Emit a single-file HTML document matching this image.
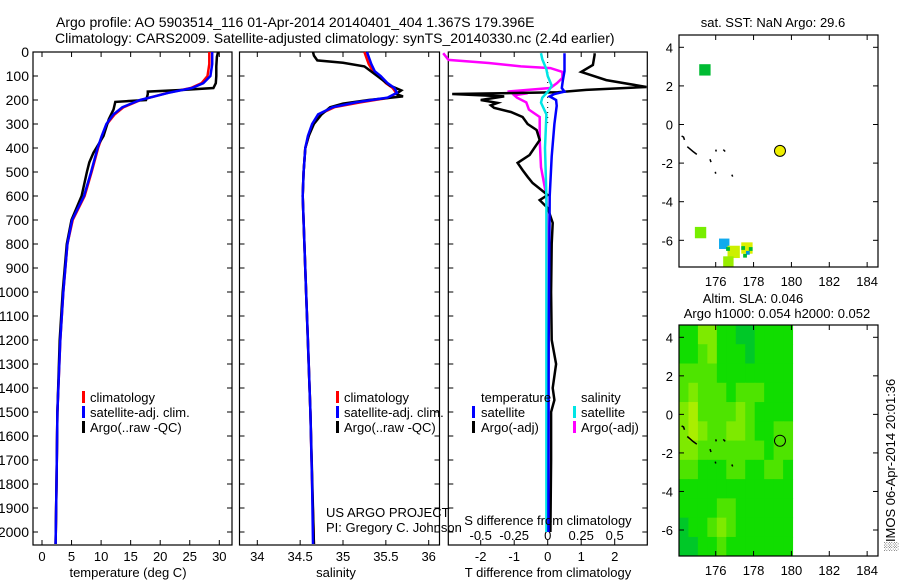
<!DOCTYPE html>
<html><head><meta charset="utf-8">
<style>
html,body{margin:0;padding:0;background:#fff;}
svg{display:block;font-family:"Liberation Sans",sans-serif;}
text{font-size:13px;fill:#000;}
.tt{font-size:14px;}
.sm{font-size:13px;}
</style></head>
<body>
<svg id="chart" width="900" height="580" viewBox="0 0 900 580">
<text class="tt" x="56" y="27">Argo profile: AO 5903514_116 01-Apr-2014 20140401_404 1.367S 179.396E</text>
<text class="tt" x="55" y="43">Climatology: CARS2009. Satellite-adjusted climatology: synTS_20140330.nc (2.4d earlier)</text>
<g id="layer"></g>
</svg>
<script>
// ---- data ----
const tDepth = [0,50,100,130,150,170,185,200,230,260,300,350,400,500,600,700,800,1000,1200,1500,1800,2050];
const tClim  = [28.3,28.3,28.0,27.0,25.2,21.3,19.0,16.7,13.8,12.3,11.0,10.2,9.5,8.4,7.2,5.2,4.3,3.6,3.1,2.6,2.45,2.3];
const tSat   = [28.8,28.8,28.5,27.3,25.4,21.4,19.0,16.6,13.6,12.1,10.9,10.1,9.4,8.3,7.1,5.1,4.3,3.6,3.1,2.6,2.45,2.3];
const aDepth = [0,20,60,100,130,150,158,165,175,185,200,208,240,280,350,420,460,500,600,700,800,1000,1200,1500,1800,2050];
const tArgo  = [29.8,29.6,29.5,29.5,29.4,29.0,24.0,17.9,17.9,17.8,17.6,12.4,12.1,11.3,10.4,8.7,8.0,7.6,6.7,5.0,4.2,3.5,3.0,2.6,2.45,2.3];
const sDepth = [0,20,50,80,100,130,150,170,190,210,230,260,300,350,400,500,600,800,1000,1200,1500,1800,2050];
const sClim  = [35.25,35.27,35.3,35.35,35.42,35.5,35.58,35.62,35.55,35.2,34.9,34.72,34.65,34.6,34.56,34.54,34.53,34.55,34.57,34.59,34.62,34.64,34.66];
const sSat   = [35.28,35.3,35.33,35.37,35.44,35.52,35.6,35.63,35.52,35.15,34.88,34.71,34.64,34.59,34.56,34.54,34.53,34.55,34.57,34.59,34.62,34.64,34.65];
const saDepth= [0,15,35,45,60,100,140,160,175,185,200,215,230,260,300,350,400,500,600,800,1000,1500,2050];
const sArgo  = [34.65,34.66,34.7,35.0,35.25,35.4,35.55,35.68,35.62,35.7,35.3,35.0,34.85,34.75,34.66,34.6,34.56,34.54,34.53,34.55,34.57,34.62,34.66];
const tdDepth= [5,12,54,83,117,146,158,168,175,185,200,212,222,233,250,271,300,325,367,400,429,462,492,520,546,596,617,650,712,800,1000,1200,1300,1400,1450,1500,1700,2000];
const tdArgo = [1.4,1.4,1.35,1.0,1.75,2.95,1.15,0.3,-2.85,-1.3,-2.0,-1.5,-1.7,-1.6,-1.1,-0.75,-0.6,-0.33,-0.24,-0.4,-0.54,-0.9,-0.75,-0.6,-0.45,0,-0.24,0,0.15,0.12,0.1,0.12,0.25,0.15,0.2,0.1,0.1,0.08];
const tsDepth= [5,40,80,120,150,165,175,185,200,224,300,435,600,800,1200,2000];
const tdSat  = [0.5,0.5,0.5,0.45,0.42,0.5,0.2,0.06,0.25,0.27,0.2,0.12,0.06,0.05,0.03,0.02];
const sdDepth= [5,33,46,60,67,83,108,129,150,165,172,180,190,210,240,271,300,367,480,600,800,2000];
const sdArgo = [-0.78,-0.74,-0.44,-0.2,0.02,0.11,0.11,0.07,0.02,-0.3,-0.15,-0.25,-0.23,-0.16,-0.14,-0.06,-0.06,-0.06,-0.05,-0.01,0,0];
const ssDepth= [5,30,72,100,140,160,190,211,260,400,600,1000,2000];
const sdSat  = [-0.05,-0.04,-0.01,0,0.03,0.01,-0.04,-0.05,-0.01,-0.02,-0.01,-0.01,-0.01];
const depthTicks = [0,100,200,300,400,500,600,700,800,900,1000,1100,1200,1300,1400,1500,1600,1700,1800,1900,2000];
const tTicks = [0,5,10,15,20,25,30];
const sTicks = [34,34.5,35,35.5,36];
const tdTicks = [-2,-1,0,1,2];
const sdTicks = [-0.5,-0.25,0,0.25,0.5];
const sdTickLabels = ["-0.5","-0.25","0","0.25","0.5"];
const lonTicks = [176,178,180,182,184];
const latTicks = [4,2,0,-2,-4,-6];
const sstLon = [175.43,175.2,176.45,176.95,177.65,176.67,176.65,177.45,177.85,177.7,177.55];
const sstLat = [2.83,-5.6,-6.18,-6.6,-6.4,-7.1,-6.45,-6.4,-6.45,-6.65,-6.8];
const sstSize= [0.6,0.6,0.55,0.65,0.6,0.55,0.2,0.2,0.2,0.2,0.2];
const sstColor=["#00bb33","#77ee00","#11aaee","#ccf000","#ddf000","#99ee00","#00bb33","#00bb33","#00bb33","#0099dd","#00bb33"];
const argoLon = 179.396, argoLat = -1.367;
const slaLon0 = 174.06, slaLat0 = 4.64;
const slaGrid = [
[1,1,3,3,1,1,0,0,1,1,1,1],
[1,1,2,3,1,1,1,0,1,1,1,1],
[2,2,2,2,1,1,1,1,1,1,1,1],
[2,3,2,2,2,1,2,2,2,1,1,1],
[3,4,2,2,2,2,3,2,1,1,1,1],
[3,4,3,2,2,3,3,2,1,1,2,2],
[3,3,2,2,2,2,2,2,2,1,2,2],
[2,2,1,1,1,2,2,1,1,2,2,1],
[1,1,1,1,1,1,1,1,1,1,1,1],
[1,1,1,1,2,2,1,1,1,1,1,1],
[0,1,1,2,3,2,1,1,1,1,1,1],
[0,0,1,1,2,1,1,1,1,1,1,1]];
const slaColors = ["#00c828","#11dd00","#4ee400","#7eea00","#aaee00"];
const coastLon = [[174.2,174.3,174.35],[174.5,174.8,175.0],[175.7,175.75],[176.0,176.03],[176.4,176.5],[175.98,176.0],[176.85,176.9]];
const coastLat = [[-0.6,-0.65,-0.8],[-1.15,-1.4,-1.55],[-1.8,-1.95],[-1.3,-1.4],[-1.3,-1.4],[-2.45,-2.55],[-2.6,-2.7]];

// ---- scales ----
const NS='http://www.w3.org/2000/svg';
const layer=document.getElementById('layer');
const Y0=52, Y1=545;
function yD(d){return Y0+d*0.24;}
function xT(t){return 42+t*5.91;}
function xS(s){return 257.3+(s-34)*85.7;}
function xTd(t){return 547.7+t*33.5;}
function xSd(s){return 547.7+s*4*33.5;}
function mk(tag,attrs,parent){const e=document.createElementNS(NS,tag);for(const k in attrs)e.setAttribute(k,attrs[k]);(parent||layer).appendChild(e);return e;}
function txt(x,y,s,anchor,cls,parent){const e=mk('text',{x:x,y:y,'text-anchor':anchor||'start'},parent);if(cls)e.setAttribute('class',cls);e.textContent=s;return e;}
function line(xs,ys,fx,color,w,name){
  let d='';for(let i=0;i<xs.length;i++){d+=(i?'L':'M')+fx(xs[i]).toFixed(1)+','+yD(ys[i]).toFixed(1);}
  const p=mk('path',{d:d,fill:'none',stroke:color,'stroke-width':w||2.5,'stroke-linejoin':'miter'});
  
  
  return p;
}
function frame(x0,x1,name){const r=mk('rect',{x:x0,y:Y0,width:x1-x0,height:Y1-Y0,fill:'none',stroke:'#000','stroke-width':1.2});
  
  }
function depthTicksOn(x0,x1){depthTicks.forEach(d=>{const y=yD(d);mk('line',{x1:x0,y1:y,x2:x0+5,y2:y,stroke:'#000'});mk('line',{x1:x1,y1:y,x2:x1-5,y2:y,stroke:'#000'});});}

// Panel 1 - temperature
frame(33,232,'temperature-panel');
depthTicksOn(33,232);
depthTicks.forEach(d=>{const t=txt(29,yD(d)+5,String(d),'end','tt');
  
  });
tTicks.forEach(v=>{const x=xT(v);mk('line',{x1:x,y1:Y1,x2:x,y2:Y1-5,stroke:'#000'});mk('line',{x1:x,y1:Y0,x2:x,y2:Y0+5,stroke:'#000'});
  const t=txt(x,561,String(v),'middle');
  
  });
line(tClim,tDepth,xT,'#ff0000',2.5,'temperature-climatology-line');
line(tArgo,aDepth,xT,'#000000',2.5,'temperature-argo-line');
line(tSat,tDepth,xT,'#0000ff',2.5,'temperature-satellite-line');
const tl=txt(128,577,'temperature (deg C)','middle');



// Panel 2 - salinity
frame(239.5,439.5,'salinity-panel');
depthTicksOn(239.5,439.5);
sTicks.forEach(v=>{const x=xS(v);mk('line',{x1:x,y1:Y1,x2:x,y2:Y1-5,stroke:'#000'});mk('line',{x1:x,y1:Y0,x2:x,y2:Y0+5,stroke:'#000'});
  const t=txt(x,561,String(v),'middle');
  
  });
line(sClim,sDepth,xS,'#ff0000',2.5,'salinity-climatology-line');
line(sArgo,saDepth,xS,'#000000',2.5,'salinity-argo-line');
line(sSat,sDepth,xS,'#0000ff',2.5,'salinity-satellite-line');
const sl=txt(336,577,'salinity','middle');



// Panel 3 - differences
frame(448.3,647.3,'difference-panel');
depthTicksOn(448.3,647.3);
mk('line',{x1:xTd(0),y1:Y0,x2:xTd(0),y2:yD(300),stroke:'#000','stroke-dasharray':'1,4'});
tdTicks.forEach(v=>{const x=xTd(v);mk('line',{x1:x,y1:Y1,x2:x,y2:Y1-5,stroke:'#000'});mk('line',{x1:x,y1:Y0,x2:x,y2:Y0+5,stroke:'#000'});
  const t=txt(x,561,String(v),'middle');
  
  });
sdTicks.forEach((v,i)=>{const t=txt(xSd(v),540,sdTickLabels[i],'middle');
  
  });
line(sdArgo,sdDepth,xSd,'#ff00ff',2.5,'s-difference-argo-line');
line(tdArgo,tdDepth,xTd,'#000000',2.5,'t-difference-argo-line');
line(sdSat,ssDepth,xSd,'#00e5e5',2.5,'s-difference-satellite-line');
line(tdSat,tsDepth,xTd,'#0000ff',2.5,'t-difference-satellite-line');
const sdl=txt(548,525,'S difference from climatology','middle');


const tdl=txt(548,577,'T difference from climatology','middle');



// legends
function legend(mx,tx,y,color,label,name){
  mk('rect',{x:mx-1,y:y-11,width:3,height:12,fill:color});
  const t=txt(tx,y,label,'start');
  
  
}
legend(83,90,402,'#ff0000','climatology','legend-climatology');
legend(83,90,417,'#0000ff','satellite-adj. clim.','legend-satellite');
legend(83,90,432,'#000000','Argo(..raw -QC)','legend-argo');
legend(337,344,402,'#ff0000','climatology','legend-climatology-sal');
legend(337,344,417,'#0000ff','satellite-adj. clim.','legend-satellite-sal');
legend(337,344,432,'#000000','Argo(..raw -QC)','legend-argo-sal');
const lt=txt(481,402,'temperature','start');


const ls=txt(581,402,'salinity','start');


legend(473,481,417,'#0000ff','satellite','legend-t-satellite');
legend(473,481,432,'#000000','Argo(-adj)','legend-t-argo');
legend(574,581,417,'#00e5e5','satellite','legend-s-satellite');
legend(574,581,432,'#ff00ff','Argo(-adj)','legend-s-argo');
const p1=txt(326,517,'US ARGO PROJECT','start');


const p2=txt(326,532,'PI: Gregory C. Johnson','start');



// ---- maps ----
const MX0=679, MX1=878;
function xL(l){return 715.7+(l-176)*18.93;}
function map(name){
  const g=mk('g',{});
  
  
  return g;
}
function mapAxes(g,top,bottom,yLat,labelY){
  mk('rect',{x:MX0,y:top,width:MX1-MX0,height:bottom-top,fill:'none',stroke:'#000','stroke-width':1.2},g);
  lonTicks.forEach(v=>{const x=xL(v);mk('line',{x1:x,y1:bottom,x2:x,y2:bottom-5,stroke:'#000'},g);mk('line',{x1:x,y1:top,x2:x,y2:top+5,stroke:'#000'},g);
    const t=txt(x,labelY,String(v),'middle','sm',g);
    
    });
  latTicks.forEach(v=>{const y=yLat(v);mk('line',{x1:MX0,y1:y,x2:MX0+5,y2:y,stroke:'#000'},g);mk('line',{x1:MX1,y1:y,x2:MX1-5,y2:y,stroke:'#000'},g);
    const t=txt(673,y+5,String(v),'end','sm',g);
    
    });
}
function coast(g,yLat){
  coastLon.forEach((ls,i)=>{let d='';ls.forEach((l,j)=>{d+=(j?'L':'M')+xL(l).toFixed(1)+','+yLat(coastLat[i][j]).toFixed(1);});
    const p=mk('path',{d:d,fill:'none',stroke:'#000','stroke-width':1.5},g);
    
    });
}
// Map 1 - SST
const yA=l=>47.3+(4-l)*19.3;
const g1=map('sst-map');
sstLon.forEach((l,i)=>{const s=sstSize[i]*18.93;
  const r=mk('rect',{x:xL(l)-s/2,y:yA(sstLat[i])-s/2,width:s,height:s,fill:sstColor[i]},g1);
  
  });
coast(g1,yA);
const c1=mk('circle',{cx:xL(argoLon),cy:yA(argoLat),r:5.5,fill:'#eeee00',stroke:'#000','stroke-width':1},g1);


mapAxes(g1,35,267,yA,286);
const mt1=txt(773,27,'sat. SST: NaN Argo: 29.6','middle','',g1);


// Map 2 - SLA
const yB=l=>337.3+(4-l)*19.27;
const g2=map('sla-map');
slaGrid.forEach((row,r)=>row.forEach((v,c)=>{
  const x0=xL(slaLon0+c*0.5), x1=xL(slaLon0+(c+1)*0.5);
  const y0=Math.max(325,yB(slaLat0-r)), y1=Math.min(556,yB(slaLat0-r-1));
  const rc=mk('rect',{x:x0,y:y0,width:x1-x0+0.5,height:y1-y0+0.5,fill:slaColors[v]},g2);
  
  
}));
coast(g2,yB);
const c2=mk('circle',{cx:xL(argoLon),cy:yB(argoLat),r:5.5,fill:'none',stroke:'#000','stroke-width':1},g2);


mapAxes(g2,325,556,yB,575);
const mt2=txt(753,303,'Altim. SLA: 0.046','middle','',g2);


const mt3=txt(777,318,'Argo h1000: 0.054 h2000: 0.052','middle','',g2);


const st=txt(0,0,'\u2591IMOS 06-Apr-2014 20:01:36','middle','sm');
st.setAttribute('transform','translate(895,465) rotate(-90)');


</script>
</body></html>
